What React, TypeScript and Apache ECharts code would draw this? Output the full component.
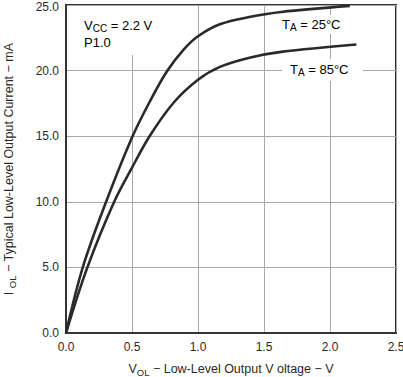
import React, { useEffect, useRef } from "react";
import * as echarts from "echarts";

const xTicks = ["0.0", "0.5", "1.0", "1.5", "2.0", "2.5"];
const yTicks = ["0.0", "5.0", "10.0", "15.0", "20.0", "25.0"];

const vol25 = [0, 0.127, 0.304, 0.5, 0.638, 0.765, 0.891, 1.0, 1.17, 1.398, 1.63, 2.15];
const iol25 = [0, 5, 10, 14.9, 17.7, 19.95, 21.6, 22.62, 23.55, 24.1, 24.47, 24.93];
const vol85 = [0, 0.162, 0.365, 0.5, 0.633, 0.815, 1.0, 1.17, 1.398, 1.63, 2.2];
const iol85 = [0, 5, 10, 12.6, 15, 17.55, 19.3, 20.3, 21.0, 21.43, 21.99];

const FONT = "'Liberation Sans', Arial, Helvetica, sans-serif";
const INK = "#2a2a2a";

export default function App() {
  const ref = useRef<HTMLDivElement>(null);
  useEffect(() => {
    document.body.style.margin = "0";
    const chart = echarts.init(ref.current!, null, { renderer: "svg" });
    const rich = {
      n: { fontSize: 12.5, fontFamily: FONT, color: INK, lineHeight: 16, verticalAlign: "middle" },
      s: { fontSize: 9.5, fontFamily: FONT, color: INK, lineHeight: 16, padding: [6, 0, 0, 0], verticalAlign: "middle" },
    };
    const labelRich = {
      n: { fontSize: 13, fontFamily: FONT, color: INK, lineHeight: 17 },
      s: { fontSize: 10, fontFamily: FONT, color: INK, lineHeight: 17, padding: [6, 0, 0, 0] },
    };
    chart.setOption({
      animation: false,
      backgroundColor: "#fff",
      grid: {
        left: 66,
        top: 5,
        right: 7,
        bottom: 44,
        containLabel: false,
        outerBoundsMode: "none",
        show: true,
        borderColor: "#333",
        borderWidth: 2,
        backgroundColor: "transparent",
      },
      xAxis: {
        type: "value",
        min: 0,
        max: 2.5,
        interval: 0.5,
        name: "{n|V}{s|OL}{n| − Low-Level Output V oltage − V}",
        nameLocation: "middle",
        nameGap: 28,
        nameTextStyle: { rich },
        axisLine: { show: true, lineStyle: { color: "#333", width: 2 } },
        axisTick: { show: false },
        axisLabel: {
          margin: 8,
          fontSize: 12,
          fontFamily: FONT,
          color: INK,
          formatter: (v: number) => xTicks[Math.round(v / 0.5)] ?? "",
        },
        splitLine: { show: true, lineStyle: { color: "#a8a8a8", width: 1 } },
      },
      yAxis: {
        type: "value",
        min: 0,
        max: 25,
        interval: 5,
        name: "{n|I}{n| }{s|OL}{n| − Typical Low-Level Output Current − mA}",
        nameLocation: "middle",
        nameGap: 49,
        nameTextStyle: { rich },
        axisLine: { show: true, lineStyle: { color: "#333", width: 2 } },
        axisTick: { show: false },
        axisLabel: {
          margin: 7,
          fontSize: 12,
          fontFamily: FONT,
          color: INK,
          formatter: (v: number) => {
            const i = Math.round(v / 5);
            const t = yTicks[i] ?? "";
            return i === yTicks.length - 1 ? "{t|" + t + "}" : t;
          },
          rich: { t: { fontSize: 12, fontFamily: FONT, color: INK, padding: [3, 0, 0, 0] } },
        },
        splitLine: { show: true, lineStyle: { color: "#a8a8a8", width: 1 } },
      },
      graphic: [
        { type: "rect", z: 1, shape: { x: 74, y: 6, width: 100, height: 49 }, style: { fill: "#fff" } },
        { type: "rect", z: 1, shape: { x: 270, y: 15, width: 80, height: 19 }, style: { fill: "#fff" } },
        { type: "rect", z: 1, shape: { x: 282, y: 59, width: 81, height: 22 }, style: { fill: "#fff" } },
        {
          type: "text",
          z: 2,
          x: 84,
          y: 17,
          style: { text: "{n|V}{s|CC}{n| = 2.2 V}\n{n|P1.0}", rich: labelRich, align: "left", verticalAlign: "top" },
        },
        {
          type: "text",
          z: 2,
          x: 282,
          y: 16,
          style: { text: "{n|T}{s|A}{n| = 25°C}", rich: labelRich, align: "left", verticalAlign: "top" },
        },
        {
          type: "text",
          z: 2,
          x: 290,
          y: 61,
          style: { text: "{n|T}{s|A}{n| = 85°C}", rich: labelRich, align: "left", verticalAlign: "top" },
        },
      ],
      series: [
        {
          type: "line",
          name: "25",
          data: vol25.map((v, i) => [v, iol25[i]]),
          smooth: 0.35,
          showSymbol: false,
          lineStyle: { color: INK, width: 2.6 },
          z: 3,
        },
        {
          type: "line",
          name: "85",
          data: vol85.map((v, i) => [v, iol85[i]]),
          smooth: 0.35,
          showSymbol: false,
          lineStyle: { color: INK, width: 2.6 },
          z: 3,
        },
      ],
    });
    return () => chart.dispose();
  }, []);
  return <div ref={ref} style={{ width: 403, height: 377 }} />;
}
